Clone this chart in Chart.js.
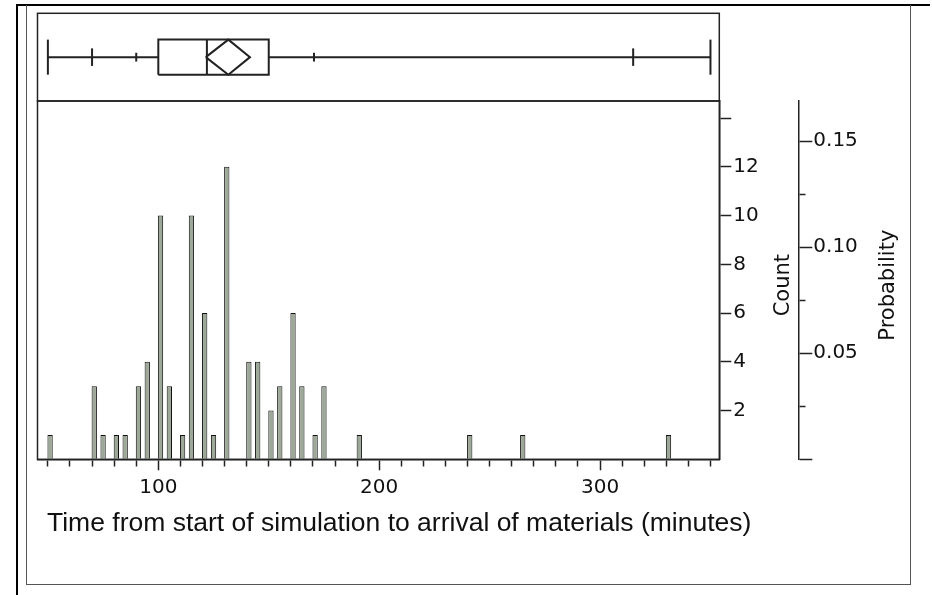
<!DOCTYPE html>
<html>
<head>
<meta charset="utf-8">
<script src="https://cdn.jsdelivr.net/npm/chart.js@4.4.1/dist/chart.umd.min.js"></script>
<style>
  body { margin: 0; background: #fff; }
  #wrap { position: relative; width: 932px; height: 595px; overflow: hidden; }
  .frame-outer { position: absolute; left: 16px; top: 4px; width: 912px; height: 600px; border-top: 2px solid #000; border-left: 2px solid #000; }
  .frame-inner { position: absolute; left: 26px; top: 5px; width: 883px; height: 579px; border: 1px solid #555; border-top: none; }
  canvas { position: absolute; left: 0; top: 0; }
</style>
</head>
<body>
<div id="wrap">
  <div class="frame-outer"></div>
  <div class="frame-inner"></div>
  <canvas id="histogram" width="932" height="595"></canvas>
  <canvas id="boxplot" width="932" height="595"></canvas>
</div>
<script>
// histogram: 2 minute bins, left edge of each bin
const binStarts = [50, 70, 74, 80, 84, 90, 94, 100, 104, 110, 114, 120, 124, 130, 140, 144, 150, 154, 160, 164, 170, 174, 190, 240, 264, 330]
const binCounts = [1, 3, 1, 1, 1, 3, 4, 10, 3, 1, 10, 6, 1, 12, 4, 4, 2, 3, 6, 3, 1, 3, 1, 1, 1, 1]
const binWidth = 2

// quantile box plot: min, 2.5%, 10%, 25%, median, 75%, 90%, 97.5%, max
const quantileValues = [50, 70, 90, 100, 122, 150, 170.5, 315, 350]
const meanValue = 131.7
const meanCI = [121.5, 141.5]

// tick labels
const timeLabels = [100, 200, 300]
const countLabels = [2, 4, 6, 8, 10, 12]
const probLabels = [0.05, 0.10, 0.15]

Chart.defaults.font.family = '"DejaVu Sans", sans-serif'
Chart.defaults.font.size = 20
Chart.defaults.color = '#111'
Chart.defaults.animation = false

const ink = '#222'
const xMin = 45.3
const xMax = 354
const countMax = 14.7
const total = binCounts.reduce((a, b) => a + b, 0)
const minorDash = [6, 40]
const isMultiple = (v, step) => Math.abs(v / step - Math.round(v / step)) < 1e-6

const panelFrame = {
  id: 'panelFrame',
  afterDraw(chart) {
    const { ctx, chartArea: a } = chart
    ctx.save()
    ctx.strokeStyle = ink
    ctx.lineWidth = 1.5
    ctx.strokeRect(a.left, a.top, a.right - a.left, a.bottom - a.top)
    ctx.restore()
  },
}

// right-hand titles read bottom to top, which chart.js does not do for right axes
const axisTitles = {
  id: 'axisTitles',
  afterDraw(chart) {
    const { ctx, chartArea, scales } = chart
    ctx.save()
    ctx.fillStyle = '#111'
    ctx.textBaseline = 'middle'
    ctx.font = '26.5px "Liberation Sans", Arial, sans-serif'
    ctx.textAlign = 'left'
    ctx.fillText('Time from start of simulation to arrival of materials (minutes)', chartArea.left + 9.5, chartArea.bottom + 64)
    ctx.font = '21px "DejaVu Sans", sans-serif'
    ctx.textAlign = 'center'
    const midY = (chartArea.top + chartArea.bottom) / 2 + 5
    const titles = [
      ['Count', scales.count.right - 15],
      ['Probability', scales.prob.left + 90],
    ]
    titles.forEach(([text, x]) => {
      ctx.save()
      ctx.translate(x, midY)
      ctx.rotate(-Math.PI / 2)
      ctx.fillText(text, 0, 0)
      ctx.restore()
    })
    ctx.restore()
  },
}

new Chart(document.getElementById('histogram'), {
  type: 'bar',
  data: {
    datasets: [
      {
        data: binStarts.map((s, i) => ({ x: s + binWidth / 2, y: binCounts[i] })),
        backgroundColor: '#9ea898',
        borderColor: '#111',
        borderWidth: 1,
        barPercentage: 0.6,
        categoryPercentage: 1,
        yAxisID: 'count',
      },
    ],
  },
  options: {
    responsive: false,
    devicePixelRatio: 1,
    layout: { padding: { left: 37.5, top: 101, right: 28, bottom: 95.7 } },
    plugins: { legend: { display: false }, tooltip: { enabled: false } },
    scales: {
      x: {
        type: 'linear',
        min: xMin,
        max: xMax,
        offset: false,
        grid: {
          drawOnChartArea: false,
          offset: false,
          tickLength: 11,
          tickWidth: 1.5,
          tickColor: ink,
          tickBorderDash: ctx => (isMultiple(ctx.tick.value, 100) ? [] : minorDash),
        },
        border: { color: ink, width: 1.5 },
        ticks: {
          stepSize: 10,
          includeBounds: false,
          autoSkip: false,
          maxRotation: 0,
          padding: 5,
          callback: v => (timeLabels.includes(v) ? String(v) : ''),
        },
        afterFit: s => { s.height = 40 },
      },
      count: {
        type: 'linear',
        position: 'right',
        weight: 1,
        min: 0,
        max: countMax,
        grid: {
          drawOnChartArea: false,
          tickLength: 12,
          tickWidth: 1.5,
          tickColor: ctx => (ctx.tick.value === 0 ? 'rgba(0,0,0,0)' : ink),
        },
        border: { color: ink, width: 1.5 },
        ticks: {
          stepSize: 2,
          includeBounds: false,
          padding: 2,
          callback: v => (countLabels.includes(v) ? String(v) : ''),
        },
        afterFit: s => { s.width = 79 },
      },
      prob: {
        type: 'linear',
        position: 'right',
        weight: 2,
        min: 0,
        max: countMax / total,
        grid: {
          drawOnChartArea: false,
          tickLength: 14,
          tickWidth: 1.5,
          tickColor: ink,
          tickBorderDash: ctx => (isMultiple(ctx.tick.value, 0.05) ? [] : minorDash),
        },
        border: { color: ink, width: 1.5 },
        ticks: {
          stepSize: 0.025,
          includeBounds: false,
          padding: 1,
          callback: v => (probLabels.some(p => Math.abs(p - v) < 1e-9) ? v.toFixed(2) : ''),
        },
        afterFit: s => { s.width = 105.7 },
      },
    },
  },
  plugins: [panelFrame, axisTitles],
})

// box plot shapes, in (minutes, box-row) units
const [qMin, q025, q10, q25, qMed, q75, q90, q975, qMax] = quantileValues
const mid = 0.5
const half = 0.2
const boxShapes = [
  [[qMin, mid], [q25, mid]],
  [[q75, mid], [qMax, mid]],
  [[qMin, mid - half], [qMin, mid + half]],
  [[qMax, mid - half], [qMax, mid + half]],
  [[q025, mid - 0.1], [q025, mid + 0.1]],
  [[q975, mid - 0.1], [q975, mid + 0.1]],
  [[q10, mid - 0.05], [q10, mid + 0.05]],
  [[q90, mid - 0.05], [q90, mid + 0.05]],
  [[q25, mid - half], [q75, mid - half], [q75, mid + half], [q25, mid + half], [q25, mid - half]],
  [[qMed, mid - half], [qMed, mid + half]],
  [[meanCI[0], mid], [meanValue, mid + half], [meanCI[1], mid], [meanValue, mid - half], [meanCI[0], mid]],
]

new Chart(document.getElementById('boxplot'), {
  type: 'scatter',
  data: {
    datasets: boxShapes.map(points => ({
      data: points.map(([x, y]) => ({ x, y })),
      showLine: true,
      borderColor: ink,
      borderWidth: 2,
      borderJoinStyle: 'miter',
      pointRadius: 0,
      clip: false,
    })),
  },
  options: {
    responsive: false,
    devicePixelRatio: 1,
    layout: { padding: { left: 37.5, top: 13.3, right: 212.7, bottom: 494 } },
    plugins: { legend: { display: false }, tooltip: { enabled: false } },
    scales: {
      x: { type: 'linear', min: xMin, max: xMax, display: false },
      y: { type: 'linear', min: 0, max: 1, display: false },
    },
  },
  plugins: [panelFrame],
})
</script>
</body>
</html>
